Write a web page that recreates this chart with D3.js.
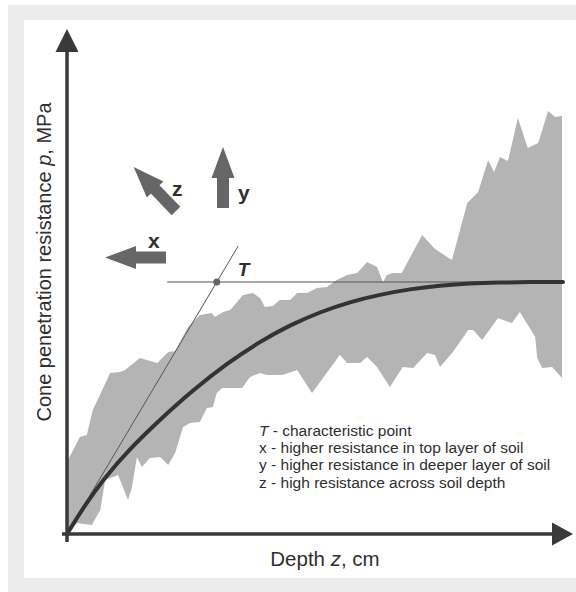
<!DOCTYPE html>
<html>
<head>
<meta charset="utf-8">
<script src="https://cdn.jsdelivr.net/npm/d3@7"></script>
<style>
  body { margin: 0; background: #fff; }
  svg { display: block; font-family: "Liberation Sans", Arial, sans-serif; }
</style>
</head>
<body>
<script>
// depth (arbitrary 0-100) and resistance (arbitrary, plateau = 10)
const upperDepth = [0, 2.6, 4.0, 5.2, 8.7, 10.7, 11.7, 14.7, 18.2, 20.4, 21.8, 24.4, 26.8, 29.2, 29.8, 31.5, 32.9, 35.5, 37.5, 38.9, 39.9, 41.5, 42.9, 45.0, 46.4, 48.4, 50.4, 52.4, 54.4, 56.5, 58.5, 60.5, 62.5, 63.7, 64.5, 65.7, 67.5, 71.6, 74.2, 77.6, 80.7, 82.9, 84.9, 86.1, 87.3, 88.9, 90.9, 92.9, 95.0, 97.0, 98.4, 99.8];
const upperP = [2.86, 3.85, 3.93, 4.92, 6.39, 6.43, 6.51, 6.98, 6.79, 7.22, 7.26, 8.21, 8.69, 8.77, 8.61, 8.81, 8.89, 9.48, 9.56, 9.37, 9.01, 9.05, 9.29, 9.29, 9.56, 9.56, 9.76, 9.80, 10.08, 10.28, 10.36, 10.79, 10.60, 10.00, 10.28, 10.36, 10.36, 11.87, 11.31, 10.87, 13.13, 13.57, 14.84, 14.37, 14.96, 14.80, 16.51, 15.32, 15.52, 16.79, 16.55, 16.59];

const lowerDepth = [0, 2.0, 5.0, 6.7, 7.7, 10.3, 12.3, 13.1, 14.1, 15.1, 16.7, 18.8, 20.4, 21.8, 23.4, 24.8, 26.8, 28.2, 29.4, 30.2, 31.3, 35.3, 36.9, 38.9, 40.3, 43.4, 46.4, 49.4, 55.0, 56.5, 59.1, 60.5, 62.5, 65.1, 67.7, 69.8, 72.6, 74.2, 75.2, 77.8, 80.9, 81.9, 83.7, 86.9, 89.7, 91.3, 94.4, 94.8, 95.8, 97.8, 99.8];
const lowerP = [0, 0.44, 0.36, 0.95, 2.14, 2.34, 1.35, 1.87, 3.06, 2.66, 3.02, 3.06, 2.74, 3.21, 4.25, 4.40, 4.44, 5.00, 5.04, 5.60, 5.79, 5.79, 6.23, 6.39, 6.31, 6.31, 6.51, 5.60, 7.10, 6.79, 6.79, 7.02, 6.63, 5.83, 6.63, 6.59, 7.18, 7.10, 6.63, 7.22, 8.10, 8.10, 7.70, 8.57, 8.37, 8.81, 7.82, 6.98, 6.59, 6.63, 6.19];

const meanDepth = [0, 3.63, 7.26, 12.7, 18.75, 25.4, 32.26, 38.91, 44.96, 51.01, 57.06, 63.1, 69.15, 75.2, 81.25, 87.3, 93.35, 100];
const meanP = [0, 1.15, 2.16, 3.39, 4.54, 5.71, 6.77, 7.64, 8.29, 8.81, 9.21, 9.50, 9.72, 9.86, 9.95, 9.98, 10.0, 10.0];

// characteristic point T and the extent of its tangent / plateau lines
const pointT = { depth: 30.2, p: 10 };
const tangentEndDepth = 34.5;
const plateauStartDepth = 20.2;
const plateauEndDepth = 100;

const legendLines = [
  ["T", " - characteristic point"],
  ["", "x - higher resistance in top layer of soil"],
  ["", "y - higher resistance in deeper layer of soil"],
  ["", "z - high resistance across soil depth"]
];

const w = 576;
const h = 592;
const ink = "#3a3a3a";
const textInk = "#2f2f2f";
const arrowFill = "#666666";

const xScale = d3.scaleLinear().domain([0, 100]).range([67, 563]);
const yScale = d3.scaleLinear().domain([0, 20]).range([534, 30]);

const svg = d3.select("body")
  .append("svg")
  .attr("width", w)
  .attr("height", h);

// frame
svg.append("rect").attr("x", 8).attr("y", 5).attr("width", w - 8).attr("height", h - 5).attr("fill", "#ececec");
svg.append("rect").attr("x", 24).attr("y", 20).attr("width", w - 24).attr("height", 558).attr("fill", "#ffffff");

// scatter band
const upper = upperDepth.map((d, i) => [d, upperP[i]]);
const lower = lowerDepth.map((d, i) => [d, lowerP[i]]);
const band = upper.concat(lower.slice().reverse());

const line = d3.line()
  .x(d => xScale(d[0]))
  .y(d => yScale(d[1]));

svg.append("path")
  .attr("d", line(band) + "Z")
  .attr("fill", "#b4b4b4");

// plateau line and tangent
svg.append("line")
  .attr("x1", xScale(plateauStartDepth)).attr("x2", xScale(plateauEndDepth))
  .attr("y1", yScale(pointT.p)).attr("y2", yScale(pointT.p))
  .attr("stroke", "#555").attr("stroke-width", 1);

svg.append("line")
  .attr("x1", xScale(0)).attr("y1", yScale(0))
  .attr("x2", xScale(tangentEndDepth))
  .attr("y2", yScale(pointT.p / pointT.depth * tangentEndDepth))
  .attr("stroke", "#555").attr("stroke-width", 1);

// mean curve
const mean = meanDepth.map((d, i) => [d, meanP[i]]);
const smooth = d3.line()
  .x(d => xScale(d[0]))
  .y(d => yScale(d[1]))
  .curve(d3.curveBasis);

svg.append("path")
  .attr("d", smooth(mean))
  .attr("fill", "none")
  .attr("stroke", "#333")
  .attr("stroke-width", 4)
  .attr("stroke-linecap", "round");

svg.append("circle")
  .attr("cx", xScale(pointT.depth))
  .attr("cy", yScale(pointT.p))
  .attr("r", 3.5)
  .attr("fill", "#666");

svg.append("text")
  .attr("x", xScale(pointT.depth) + 21)
  .attr("y", yScale(pointT.p) - 6)
  .attr("font-size", 19)
  .attr("font-style", "italic")
  .attr("font-weight", "bold")
  .attr("fill", textInk)
  .text("T");

// axes with arrow heads
const x0 = xScale(0), y0 = yScale(0);
svg.append("line")
  .attr("x1", x0).attr("x2", x0)
  .attr("y1", y0 + 8).attr("y2", 50)
  .attr("stroke", ink).attr("stroke-width", 3.5);
svg.append("path")
  .attr("d", `M${x0},29 L${x0 + 11.5},52 L${x0 - 11.5},52 Z`)
  .attr("fill", ink);

svg.append("line")
  .attr("x1", x0 - 5).attr("x2", 554)
  .attr("y1", y0).attr("y2", y0)
  .attr("stroke", ink).attr("stroke-width", 3.5);
svg.append("path")
  .attr("d", `M573,${y0} L552,${y0 - 11.5} L552,${y0 + 11.5} Z`)
  .attr("fill", ink);

// axis titles
const yTitle = svg.append("text")
  .attr("transform", "translate(51, 262) rotate(-90)")
  .attr("text-anchor", "middle")
  .attr("font-size", 20)
  .attr("fill", textInk);
yTitle.append("tspan").text("Cone penetration resistance ");
yTitle.append("tspan").attr("font-style", "italic").text("p");
yTitle.append("tspan").text(", MPa");

const xTitle = svg.append("text")
  .attr("x", 325).attr("y", 566)
  .attr("text-anchor", "middle")
  .attr("font-size", 20.5)
  .attr("fill", textInk);
xTitle.append("tspan").text("Depth ");
xTitle.append("tspan").attr("font-style", "italic").text("z");
xTitle.append("tspan").text(", cm");

// direction arrows (tail x, tail y, angle in degrees, label, label x, label y)
const arrows = [
  { x: 166, y: 257.5, angle: 180, label: "x", lx: 148, ly: 248 },
  { x: 223, y: 208, angle: -90, label: "y", lx: 238, ly: 200 },
  { x: 176, y: 211, angle: -134, label: "z", lx: 172, ly: 196 }
];
const L = 61, hl = 31, hw = 11.5, sw = 6;
const arrowShape = `M0,${-sw} L${L - hl},${-sw} L${L - hl},${-hw} L${L},0 L${L - hl},${hw} L${L - hl},${sw} L0,${sw} Z`;

arrows.forEach(a => {
  svg.append("path")
    .attr("d", arrowShape)
    .attr("transform", `translate(${a.x},${a.y}) rotate(${a.angle})`)
    .attr("fill", arrowFill);
  svg.append("text")
    .attr("x", a.lx).attr("y", a.ly)
    .attr("font-size", 21)
    .attr("font-weight", "bold")
    .attr("fill", textInk)
    .text(a.label);
});

// legend
const legend = svg.append("g").attr("font-size", 15.5).attr("fill", textInk);
legendLines.forEach((l, i) => {
  const t = legend.append("text").attr("x", 259).attr("y", 436 + i * 17.2);
  if (l[0]) t.append("tspan").attr("font-style", "italic").text(l[0]);
  t.append("tspan").text(l[1]);
});
</script>
</body>
</html>
